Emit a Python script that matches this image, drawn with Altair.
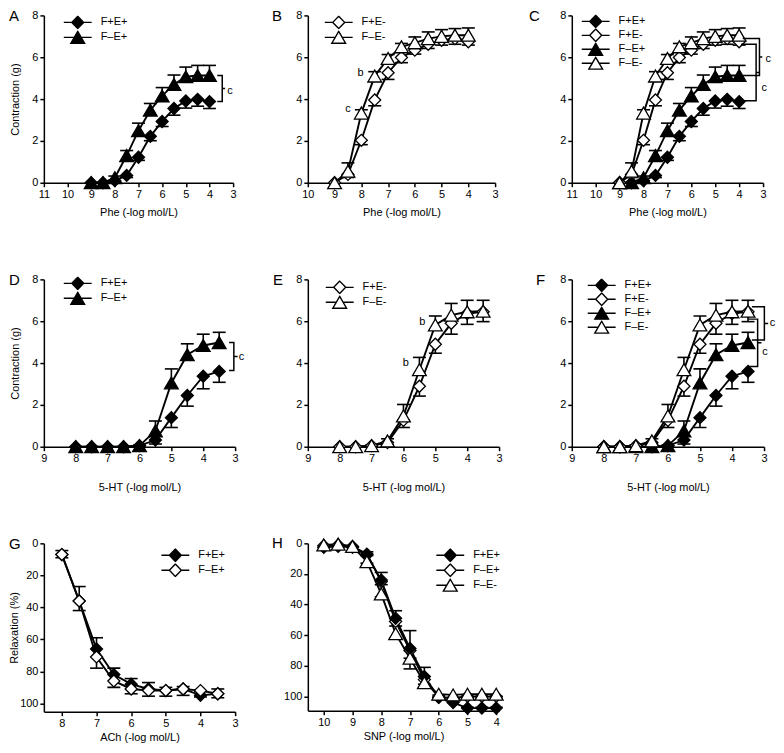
import altair as alt
import pandas as pd

FONT = "Liberation Sans"

# ---------- Phe (panels A, B, C): contraction (g) ----------
phe_x = [9, 8.5, 8, 7.5, 7, 6.5, 6, 5.5, 5, 4.5, 4]
phe_FpEp = [0, 0, 0.10, 0.35, 1.22, 2.22, 2.93, 3.55, 3.91, 3.99, 3.88]
phe_FpEp_sem = [0, 0, 0.05, 0.10, 0.15, 0.21, 0.24, 0.32, 0.34, 0.33, 0.33]
phe_FmEp = [0, 0, 0.24, 1.30, 2.49, 3.47, 4.15, 4.70, 5.07, 5.13, 5.13]
phe_FmEp_sem = [0, 0, 0.08, 0.24, 0.36, 0.32, 0.40, 0.45, 0.46, 0.48, 0.48]
phe_FpEm = [0, 0.40, 2.03, 3.96, 5.26, 5.99, 6.34, 6.62, 6.81, 6.89, 6.74]
phe_FpEm_sem = [0, 0.15, 0.21, 0.28, 0.32, 0.25, 0.19, 0.20, 0.23, 0.27, 0.16]
phe_FmEm = [0, 0.55, 3.33, 5.10, 5.94, 6.50, 6.69, 6.89, 7.00, 7.05, 7.05]
phe_FmEm_sem = [0, 0.40, 0.16, 0.21, 0.19, 0.16, 0.28, 0.32, 0.32, 0.32, 0.35]

# ---------- 5-HT (panels D, E, F): contraction (g) ----------
ht_x = [8, 7.5, 7, 6.5, 6, 5.5, 5, 4.5, 4, 3.5]
ht_FpEp = [0, 0, 0, 0, 0.05, 0.32, 1.39, 2.45, 3.37, 3.60]
ht_FpEp_sem = [0, 0, 0, 0, 0.03, 0.19, 0.47, 0.51, 0.60, 0.52]
ht_FmEp = [0, 0, 0, 0, 0.05, 0.76, 3.05, 4.40, 4.84, 4.98]
ht_FmEp_sem = [0, 0, 0, 0, 0.03, 0.47, 0.67, 0.52, 0.54, 0.49]
ht_FpEm = [0, 0, 0.05, 0.20, 1.26, 2.89, 4.90, 5.90, 6.37, 6.45]
ht_FpEm_sem = [0, 0, 0.03, 0.10, 0.34, 0.47, 0.43, 0.52, 0.52, 0.47]
ht_FmEm = [0, 0, 0.05, 0.28, 1.47, 3.68, 5.82, 6.29, 6.45, 6.48]
ht_FmEm_sem = [0, 0, 0.03, 0.10, 0.55, 0.59, 0.43, 0.56, 0.55, 0.52]

# ---------- ACh (panel G): relaxation (%) ----------
ach_x = [8, 7.5, 7, 6.5, 6, 5.5, 5, 4.5, 4, 3.5]
ach_FpEp = [7, 36, 66, 82, 88, 91, 92, 91, 95, 94]
ach_FpEp_sem = [2.5, 9, 7, 4, 3.5, 4, 2, 1.5, 2.5, 3]
ach_FmEp = [7, 36, 71, 86, 91, 92, 92, 91, 92, 94]
ach_FmEp_sem = [2, 6, 7, 4, 3, 3.5, 3.5, 4, 4, 2.5]

# ---------- SNP (panel H): relaxation (%) ----------
snp_x = [10, 9.5, 9, 8.5, 8, 7.5, 7, 6.5, 6, 5.5, 5, 4.5, 4]
snp_FpEp = [2.6, 2, 2.6, 7.5, 24, 49, 68.6, 87, 100.6, 104, 107.6, 107.6, 107.6]
snp_FpEp_sem = [0, 0, 0, 2, 5, 5, 11.6, 6, 1.5, 1, 0.5, 0.5, 0.5]
snp_FmEp = [1.5, 1, 2, 7, 25, 51, 70, 89, 100.5, 101, 100, 100, 100]
snp_FmEp_sem = [0, 0, 0, 1, 2, 3, 5, 3, 1.5, 1.5, 1, 1, 1]
snp_FmEm = [1, 0.5, 2, 12, 33, 59, 75, 91, 98.5, 99, 98.5, 98.5, 98.5]
snp_FmEm_sem = [0, 0, 0, 1, 2, 3, 7, 3, 2, 2, 1.5, 1.5, 1.5]

# significance letters (x, y, text)
notes_A = {"x": [3.13], "y": [4.39], "text": ["c"]}
notes_B = {"x": [8.03, 8.5], "y": [5.23, 3.52], "text": ["b", "c"]}
notes_C = {"x": [2.78, 2.95], "y": [5.91, 4.55], "text": ["c", "c"]}
notes_D = {"x": [2.8], "y": [4.27], "text": ["c"]}
notes_E = {"x": [5.41, 5.93], "y": [5.98, 4.0], "text": ["b", "b"]}
notes_F = {"x": [2.74, 2.97], "y": [5.9, 4.55], "text": ["c", "c"]}

# brackets: (x of open ends, x of spine, upper value, lower value)
brk_A = [(3.67, 3.46, 5.13, 3.88)]
brk_C = [(3.85, 3.15, 6.9, 5.13), (3.92, 3.29, 6.62, 3.92)]
brk_D = [(3.19, 3.04, 4.98, 3.64)]
brk_F = [(3.38, 2.99, 6.69, 5.10), (3.49, 3.2, 6.1, 3.83)]

NUB = 0.12
LEG_PATH = {
    "diamond": "M-2.8,0L-1.2,0M1.2,0L2.8,0M0,-1.25L1.2,0L0,1.25L-1.2,0Z",
    "triangle-up": "M-2.8,0L-0.69,0M0.69,0L2.8,0M0,-1.19L1.38,1.19L-1.38,1.19Z",
}
SIZE = {"diamond": 145, "triangle-up": 190}


def make_df(x, entries):
    rows = []
    for name, vals, sem, d in entries:
        for xi, v, e in zip(x, vals, sem):
            rows.append({"x": xi, "y": v, "sem": e, "yerr": v + d * e, "series": name})
    return pd.DataFrame(rows)


def panel(letter, df, styles, legend_order, xdom, xticks, ydom, yticks, yrev, w, h,
          xtitle, ytitle, xtp, ytp, leg_x, leg_y, letter_dx, notes=None, brackets=None, row_gap=1):
    xs = alt.Scale(domain=xdom, reverse=True, nice=False, zero=False)
    ys = alt.Scale(domain=ydom, reverse=yrev, nice=False, zero=False)
    xax = alt.Axis(values=xticks, title=xtitle, titlePadding=xtp, format="d")
    yax = alt.Axis(values=yticks, title=ytitle, titlePadding=ytp, format="d")
    X = alt.X("x:Q", scale=xs, axis=xax)
    Y = alt.Y("y:Q", scale=ys, axis=yax)
    base = alt.Chart(df)
    layers = [
        base.mark_line(color="black", strokeWidth=1.9).encode(x=X, y=Y, detail="series:N"),
        base.transform_filter("datum.sem > 0").mark_rule(color="black", strokeWidth=1.6).encode(
            x=X, y=Y, y2="yerr:Q"),
        base.transform_filter("datum.sem > 0").mark_tick(
            orient="horizontal", color="black", thickness=1.6, size=13, opacity=1).encode(
            x=X, y=alt.Y("yerr:Q", scale=ys, axis=yax)),
    ]
    for name, shp, fill in styles:
        layers.append(
            base.transform_filter(alt.datum.series == name).mark_point(
                shape=shp, filled=True, fill=fill, stroke="black", strokeWidth=1.3,
                size=SIZE[shp], opacity=1).encode(x=X, y=Y))
    if notes:
        layers.append(alt.Chart(pd.DataFrame(notes)).mark_text(
            font=FONT, fontSize=11, color="black").encode(x=X, y=Y, text="text:N"))
    if brackets:
        rows = []
        for i, (xe, xv, hi, lo) in enumerate(brackets):
            mid = (hi + lo) / 2
            pts = [(xe, hi), (xv, hi), (xv, mid), (xv - NUB, mid), (xv, mid), (xv, lo), (xe, lo)]
            for k, (a, b) in enumerate(pts):
                rows.append({"x": a, "y": b, "o": k, "b": i})
        layers.append(alt.Chart(pd.DataFrame(rows)).mark_line(color="black", strokeWidth=1.5).encode(
            x=X, y=Y, order="o:Q", detail="b:N"))
    smap = {n: (s, f) for n, s, f in styles}
    leg = alt.Legend(title=None, orient="none", legendX=leg_x, legendY=leg_y, symbolSize=100,
                     symbolStrokeWidth=1.4, symbolOffset=14, clipHeight=14,
                     labelOffset=17, rowPadding=row_gap, labelFont=FONT, labelFontSize=11,
                     labelColor="black", padding=0)
    layers.append(base.transform_filter("false").mark_point(
        filled=False, stroke="black", strokeWidth=1.4, size=100, opacity=1).encode(
        shape=alt.Shape("series:N", scale=alt.Scale(
            domain=legend_order, range=[LEG_PATH[smap[n][0]] for n in legend_order]), legend=leg),
        fill=alt.Fill("series:N", scale=alt.Scale(
            domain=legend_order, range=[smap[n][1] for n in legend_order]), legend=leg),
    ))
    return alt.layer(*layers).properties(
        width=w, height=h,
        title=alt.TitleParams(text=letter, anchor="start", frame="group", dx=letter_dx, dy=15,
                              fontSize=15, fontWeight="normal", font=FONT, color="black", offset=0),
    )


FpEp, FpEm, FmEp, FmEm = "F+E+", "F+E-", "F\u2013E+", "F\u2013E-"
ST = {FpEp: ("diamond", "black"), FpEm: ("diamond", "white"),
      FmEp: ("triangle-up", "black"), FmEm: ("triangle-up", "white")}


def sty(names):
    return [(n, ST[n][0], ST[n][1]) for n in names]


phe_ticks = [11, 10, 9, 8, 7, 6, 5, 4, 3]
ht_ticks = [9, 8, 7, 6, 5, 4, 3]
y8 = [0, 2, 4, 6, 8]

dfA = make_df(phe_x, [(FpEp, phe_FpEp, phe_FpEp_sem, -1), (FmEp, phe_FmEp, phe_FmEp_sem, 1)])
dfB = make_df(phe_x, [(FpEm, phe_FpEm, phe_FpEm_sem, -1), (FmEm, phe_FmEm, phe_FmEm_sem, 1)])
dfC = make_df(phe_x, [(FpEp, phe_FpEp, phe_FpEp_sem, -1), (FpEm, phe_FpEm, phe_FpEm_sem, -1),
                      (FmEp, phe_FmEp, phe_FmEp_sem, 1), (FmEm, phe_FmEm, phe_FmEm_sem, 1)])
dfD = make_df(ht_x, [(FpEp, ht_FpEp, ht_FpEp_sem, -1), (FmEp, ht_FmEp, ht_FmEp_sem, 1)])
dfE = make_df(ht_x, [(FpEm, ht_FpEm, ht_FpEm_sem, -1), (FmEm, ht_FmEm, ht_FmEm_sem, 1)])
dfF = make_df(ht_x, [(FpEp, ht_FpEp, ht_FpEp_sem, -1), (FpEm, ht_FpEm, ht_FpEm_sem, -1),
                     (FmEp, ht_FmEp, ht_FmEp_sem, 1), (FmEm, ht_FmEm, ht_FmEm_sem, 1)])
dfG = make_df(ach_x, [(FpEp, ach_FpEp, ach_FpEp_sem, -1), (FmEp, ach_FmEp, ach_FmEp_sem, 1)])
dfH = make_df(snp_x, [(FmEp, snp_FmEp, snp_FmEp_sem, 1), (FpEp, snp_FpEp, snp_FpEp_sem, -1),
                      (FmEm, snp_FmEm, snp_FmEm_sem, 1)])

phe_t = "Phe (-log mol/L)"
ht_t = "5-HT (-log mol/L)"
four = [FpEp, FpEm, FmEp, FmEm]

A = panel("A", dfA, sty([FpEp, FmEp]), [FpEp, FmEp], [3, 11], phe_ticks, [0, 8], y8, False,
          190, 168, phe_t, "Contraction (g)", 7, 11, 14, 0, -35, notes_A, brk_A)
B = panel("B", dfB, sty([FpEm, FmEm]), [FpEm, FmEm], [3, 10], phe_ticks[1:], [0, 8], y8, False,
          188, 168, phe_t, None, 7, 11, 11, 0, -36, notes_B)
C = panel("C", dfC, sty(four), four, [3, 11], phe_ticks, [0, 8], y8, False,
          192, 168, phe_t, None, 7, 11, 4, -1, -43, notes_C, brk_C, 0)
D = panel("D", dfD, sty([FpEp, FmEp]), [FpEp, FmEp], [3, 9], ht_ticks, [0, 8], y8, False,
          192, 168, ht_t, "Contraction (g)", 18, 11, 14, -3, -35, notes_D, brk_D)
E = panel("E", dfE, sty([FpEm, FmEm]), [FpEm, FmEm], [3, 9], ht_ticks, [0, 8], y8, False,
          192, 168, ht_t, None, 18, 11, 12, 1, -35, notes_E)
F = panel("F", dfF, sty(four), four, [3, 9], ht_ticks, [0, 8], y8, False,
          193, 168, ht_t, None, 18, 11, 10, -1, -36, notes_F, brk_F, 0)
G = panel("G", dfG, [(FpEp, "diamond", "black"), (FmEp, "diamond", "white")], [FpEp, FmEp],
          [3, 8.52], [8, 7, 6, 5, 4, 3], [0, 105.2], [0, 20, 40, 60, 80, 100], True,
          192, 169, "ACh (-log mol/L)", "Relaxation (%)", 3, 0, 112, 5, -35)
H = panel("H", dfH, [(FmEp, "diamond", "white"), (FpEp, "diamond", "black"), (FmEm, "triangle-up", "white")],
          [FpEp, FmEp, FmEm],
          [3.9, 10.555], [10, 9, 8, 7, 6, 5, 4], [0, 109.3], [0, 20, 40, 60, 80, 100], True,
          192, 168, "SNP (-log mol/L)", None, 3, 0, 123, 5, -36)

chart = alt.concat(
    A, B, C, D, E, F, G, H, columns=3, bounds="flush",
    spacing=alt.RowColnumber(row=97, column=73), padding=0,
).resolve_scale(shape="independent", fill="independent").resolve_legend(
    shape="independent", fill="independent"
).configure_axis(
    domainColor="black", domainWidth=1.5, tickColor="black", tickWidth=1.5, tickSize=4,
    labelFont=FONT, labelFontSize=11, labelColor="black", labelPadding=2,
    labelFlush=False, labelOverlap=False,
    titleFont=FONT, titleFontSize=11, titleFontWeight="normal", titleColor="black", grid=False,
).configure_view(stroke=None)

chart.save("out.html", embed_options={"renderer": "svg", "actions": False})
